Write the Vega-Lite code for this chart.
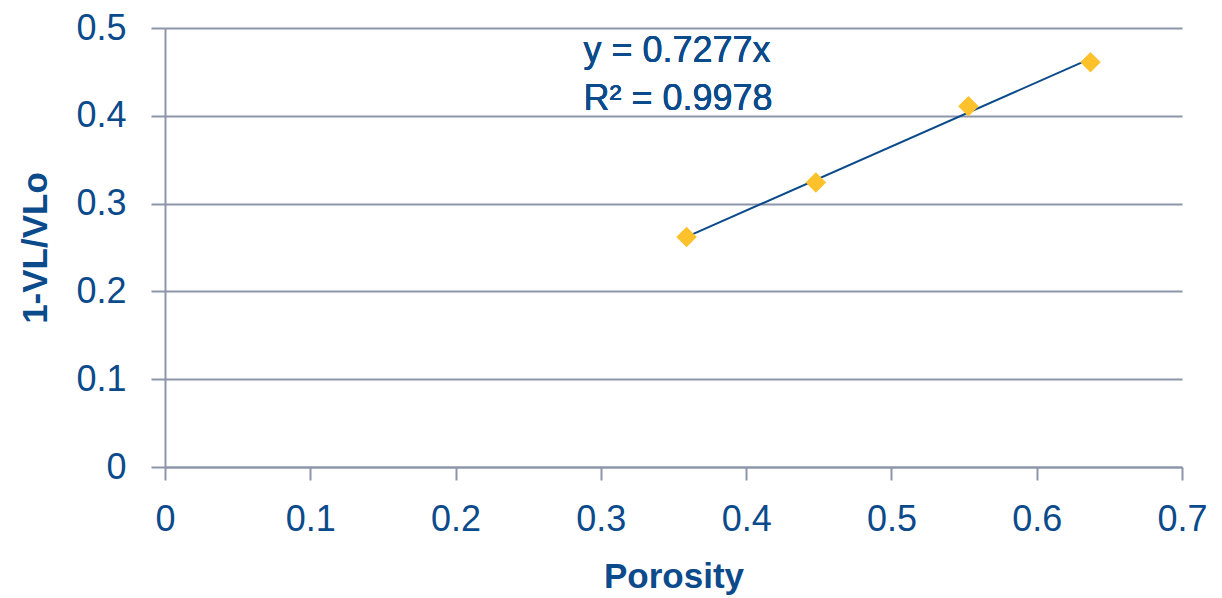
{
  "$schema": "https://vega.github.io/schema/vega-lite/v6.json",
  "autosize": "none",
  "width": 1017,
  "height": 439,
  "padding": {"left": 165, "top": 28, "right": 40, "bottom": 131},
  "background": "white",
  "config": {
    "view": {"stroke": null},
    "font": "Liberation Sans, Arial, sans-serif",
    "axis": {
      "labelFont": "Liberation Sans, Arial, sans-serif",
      "titleFont": "Liberation Sans, Arial, sans-serif",
      "labelColor": "#0B4A8B",
      "titleColor": "#0B4A8B",
      "labelFontSize": 36,
      "titleFontSize": 35,
      "titleFontWeight": "bold",
      "domainColor": "#8D95AB",
      "tickColor": "#8D95AB",
      "gridColor": "#8D95AB",
      "domainWidth": 2,
      "tickWidth": 2,
      "gridWidth": 2
    }
  },
  "data": {
    "values": [
      {"porosity": 0.359, "ratio": 0.262},
      {"porosity": 0.448, "ratio": 0.324},
      {"porosity": 0.553, "ratio": 0.411},
      {"porosity": 0.637, "ratio": 0.461}
    ]
  },
  "layer": [
    {
      "mark": {"type": "line", "color": "#0B4A8B", "strokeWidth": 2},
      "transform": [
        {"regression": "ratio", "on": "porosity", "method": "linear", "extent": [0.359, 0.637]}
      ],
      "encoding": {
        "x": {
          "field": "porosity", "type": "quantitative",
          "scale": {"domain": [0, 0.7], "nice": false, "zero": true},
          "axis": {
            "title": "Porosity",
            "format": "~g",
            "values": [0, 0.1, 0.2, 0.3, 0.4, 0.5, 0.6, 0.7],
            "grid": false,
            "tickSize": 13,
            "labelPadding": 22,
            "titlePadding": 22,
            "labelFlush": false,
            "labelOverlap": false
          }
        },
        "y": {
          "field": "ratio", "type": "quantitative",
          "scale": {"domain": [0, 0.5], "nice": false},
          "axis": {
            "title": "1-VL/VLo",
            "format": "~g",
            "values": [0, 0.1, 0.2, 0.3, 0.4, 0.5],
            "grid": true,
            "tickSize": 14,
            "labelPadding": 25,
            "titlePadding": 22,
            "labelFlush": false,
            "labelOverlap": false
          }
        }
      }
    },
    {
      "mark": {"type": "point", "shape": "diamond", "filled": true, "color": "#FDC12B", "opacity": 1, "size": 420},
      "encoding": {
        "x": {"field": "porosity", "type": "quantitative"},
        "y": {"field": "ratio", "type": "quantitative"}
      }
    },
    {
      "mark": {
        "type": "text", "align": "left", "baseline": "middle",
        "fontSize": 36, "color": "#0B4A8B", "lineHeight": 48,
        "lineBreak": "\n",
        "font": "Liberation Sans, Arial, sans-serif"
      },
      "encoding": {
        "x": {"datum": 0.288},
        "y": {"datum": 0.474},
        "text": {"value": "y = 0.7277x\nR² = 0.9978"}
      }
    }
  ]
}
